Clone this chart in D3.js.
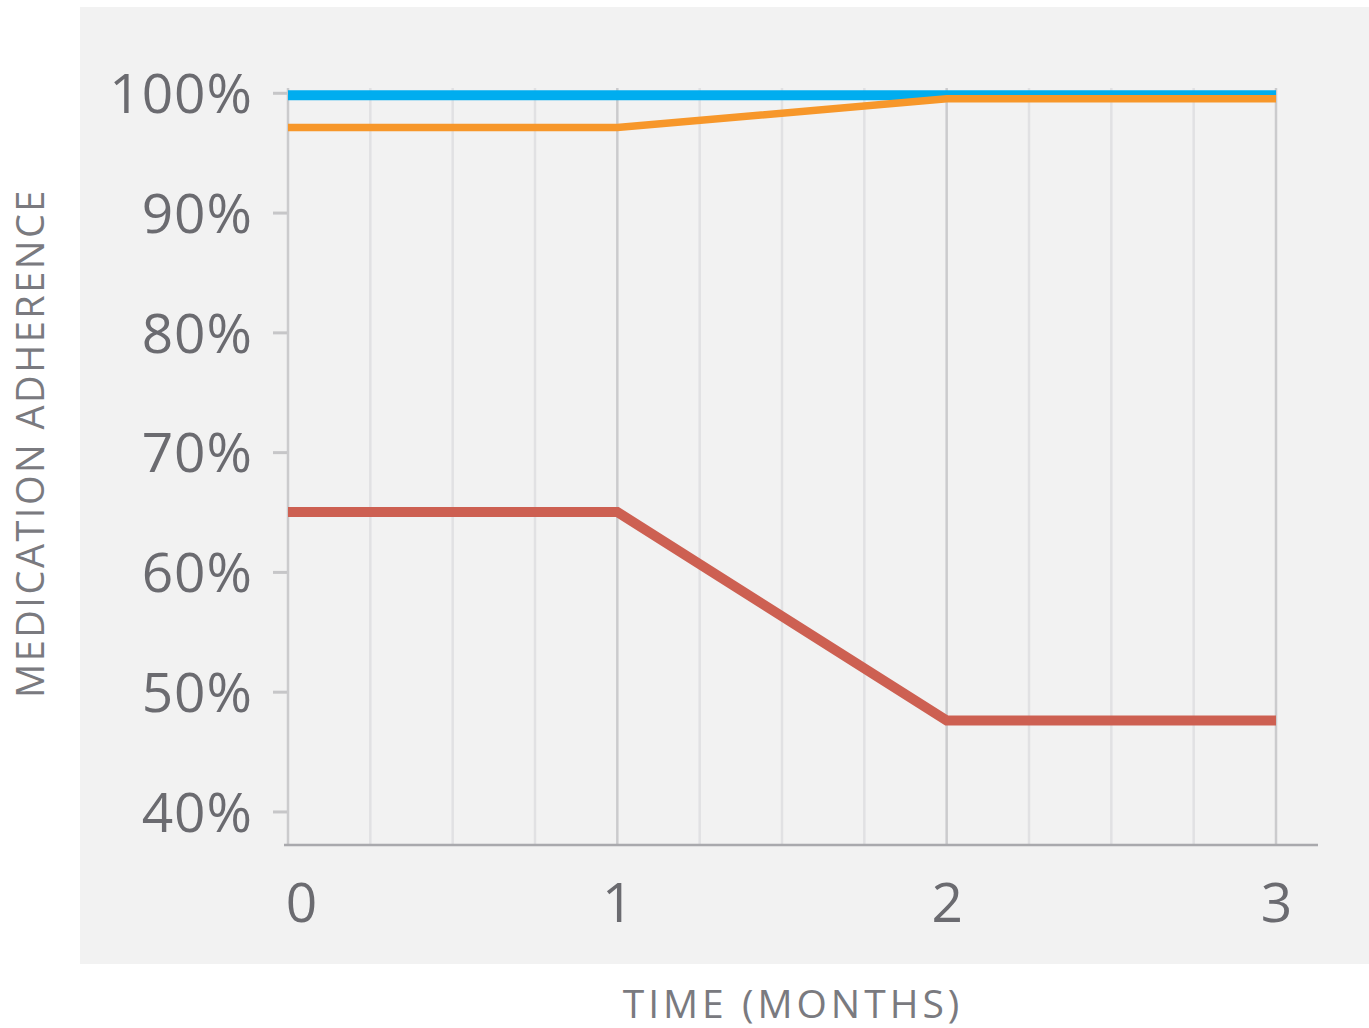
<!DOCTYPE html>
<html>
<head>
<meta charset="utf-8">
<script src="https://cdn.jsdelivr.net/npm/d3@7"></script>
<style>
  html, body { margin: 0; padding: 0; background: #ffffff; }
  svg { display: block; }
  text { font-family: "Open Sans", "Noto Sans", sans-serif; }
</style>
</head>
<body>
<svg id="chart" width="1369" height="1028"></svg>
<script>
// Months since start of treatment
const months = [0, 1, 2, 3];
// Adherence (%) per group
const blueSeries = [99.8, 99.8, 99.8, 99.8];
const orangeSeries = [97.1, 97.1, 99.5, 99.5];
const redSeries = [65, 65, 47.6, 47.6];
const seriesColors = ["#00adef", "#f7972a", "#cd6052"];
const yTickValues = [40, 50, 60, 70, 80, 90, 100];
const xTickValues = [0, 1, 2, 3];
const xTitle = "TIME (MONTHS)";
const yTitle = "MEDICATION ADHERENCE";

const svg = d3.select("#chart");

// panel background
svg.append("rect")
  .attr("x", 80).attr("y", 7)
  .attr("width", 1289).attr("height", 957)
  .attr("fill", "#f2f2f2");

const x = d3.scaleLinear().domain([0, 3]).range([288, 1276]);
const y = d3.scaleLinear().domain([37.2, 100.4]).range([845, 88]);

// vertical grid: quarter-month steps, whole months darker
const gridVals = d3.range(0, 3.001, 0.25);
svg.append("g")
  .selectAll("line")
  .data(gridVals)
  .join("line")
  .attr("x1", d => x(d)).attr("x2", d => x(d))
  .attr("y1", y.range()[1]).attr("y2", y.range()[0])
  .attr("stroke", d => Number.isInteger(d) ? "#cbcbcd" : "#e1e1e3")
  .attr("stroke-width", 2.5);

// y axis: short ticks and percentage labels
const yAxis = d3.axisLeft(y)
  .tickValues(yTickValues)
  .tickSize(14)
  .tickPadding(20)
  .tickFormat(d => d + "%");
const gy = svg.append("g").attr("transform", "translate(287,0)").call(yAxis);
gy.select(".domain").remove();
gy.selectAll(".tick line").attr("stroke", "#c6c6c8").attr("stroke-width", 3);
gy.selectAll(".tick text")
  .attr("font-size", 55)
  .attr("fill", "#6b6b70")
  .attr("font-family", "'Open Sans', sans-serif")
  .attr("letter-spacing", 1)
  .attr("dy", "0.36em");

// x axis baseline and month labels
svg.append("line")
  .attr("x1", 284).attr("x2", 1318)
  .attr("y1", 845).attr("y2", 845)
  .attr("stroke", "#a9a9ad").attr("stroke-width", 2.5);

const xAxis = d3.axisBottom(x)
  .tickValues(xTickValues)
  .tickSize(0)
  .tickPadding(0)
  .tickFormat(d3.format("d"));
const gx = svg.append("g").attr("transform", "translate(0,845)").call(xAxis);
gx.select(".domain").remove();
gx.selectAll(".tick text")
  .attr("font-size", 55)
  .attr("fill", "#6b6b70")
  .attr("font-family", "'Open Sans', sans-serif")
  .attr("y", 77)
  .attr("dy", 0)
  .attr("dx", d => d === 0 ? 13 : 0);

// series lines
const line = d3.line()
  .x((d, i) => x(months[i]))
  .y(d => y(d));

const series = [
  { values: blueSeries, color: seriesColors[0], width: 10 },
  { values: redSeries, color: seriesColors[2], width: 10 },
  { values: orangeSeries, color: seriesColors[1], width: 7.5 }
];
svg.append("g")
  .selectAll("path")
  .data(series)
  .join("path")
  .attr("d", d => line(d.values))
  .attr("fill", "none")
  .attr("stroke", d => d.color)
  .attr("stroke-width", d => d.width)
  .attr("stroke-linejoin", "miter");

// axis titles
svg.append("text")
  .attr("x", 793).attr("y", 1018)
  .attr("text-anchor", "middle")
  .attr("font-size", 39)
  .attr("letter-spacing", 4)
  .attr("fill", "#7a7a7f")
  .text(xTitle);

svg.append("text")
  .attr("transform", "translate(44,443) rotate(-90)")
  .attr("text-anchor", "middle")
  .attr("font-size", 38)
  .attr("letter-spacing", 2.5)
  .attr("fill", "#7a7a7f")
  .text(yTitle);
</script>
</body>
</html>
